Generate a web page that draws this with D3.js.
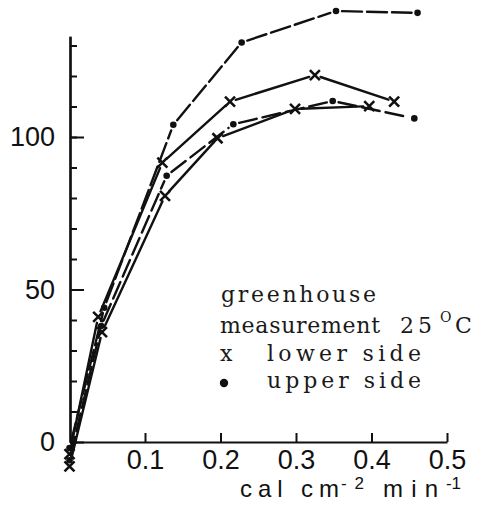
<!DOCTYPE html>
<html>
<head>
<meta charset="utf-8">
<script src="https://cdn.jsdelivr.net/npm/d3@7"></script>
<style>
  body { margin: 0; background: #fff; }
  svg { display: block; }
</style>
</head>
<body>
<svg id="chart" width="477" height="515"></svg>
<script>
// irradiance (cal cm-2 min-1) and rates
const upperTopX = [0, 0.046, 0.1375, 0.228, 0.353, 0.461];
const upperTopY = [-2, 44, 104, 131, 141.3, 140.7];
const lowerHighX = [0, 0.038, 0.123, 0.2126, 0.325, 0.430];
const lowerHighY = [-4, 41, 91.6, 111.6, 120.3, 111.6];
const upperLowX = [0, 0.042, 0.1287, 0.217, 0.3486, 0.4567];
const upperLowY = [-6, 38, 87.3, 104.2, 111.8, 106.1];
const lowerLowX = [0, 0.043, 0.1265, 0.196, 0.2987, 0.397];
const lowerLowY = [-8, 36, 80.7, 99.6, 109.2, 110.1];

const xTicks = [0.1, 0.2, 0.3, 0.4, 0.5];
const yMajorTicks = [0, 50, 100];
const yMinorTicks = d3.range(0, 131, 10);

const series = [
  { xs: upperTopX, ys: upperTopY, mark: "dot", dash: "20,5" },
  { xs: lowerHighX, ys: lowerHighY, mark: "cross", dash: null },
  { xs: upperLowX, ys: upperLowY, mark: "dot", dash: "18,6" },
  { xs: lowerLowX, ys: lowerLowY, mark: "cross", dash: null }
];

const sans = '"Liberation Sans", Arial, sans-serif';
const serif = '"DejaVu Serif", serif';
const ink = "#111";

const svg = d3.select("#chart");
const x = d3.scaleLinear().domain([0, 0.5]).range([69.5, 447]);
const y = d3.scaleLinear().domain([0, 133]).range([442, 442 - 133 * 3.05]);

// axes (ticks point inward)
const gy = svg.append("g").attr("transform", "translate(70,0)");
gy.call(d3.axisLeft(y).tickValues(yMinorTicks).tickSize(-7).tickSizeOuter(0).tickFormat(""));
gy.append("g").call(d3.axisLeft(y).tickValues(yMajorTicks).tickSize(-14).tickSizeOuter(0).tickPadding(15).tickFormat(d3.format("d")));

const gx = svg.append("g").attr("transform", "translate(0,442)");
gx.call(d3.axisBottom(x).tickValues(xTicks).tickSize(-9).tickSizeOuter(0).tickPadding(8).tickFormat(d3.format(".1f")));

svg.selectAll("path.domain").attr("stroke", ink).attr("stroke-width", 2.2);
svg.selectAll(".tick line").attr("stroke", ink).attr("stroke-width", 2);
svg.selectAll(".tick text").attr("font-family", sans).attr("font-size", 27).attr("fill", ink);

// axis title: cal cm-2 min-1
const titleParts = [
  { t: "cal cm", x: 240, y: 497, fs: 24, len: 99 },
  { t: "-2", x: 341, y: 489, fs: 17, len: 23 },
  { t: "min", x: 383, y: 497, fs: 24, len: 55 },
  { t: "-1", x: 446, y: 489, fs: 17, len: 15 }
];
svg.append("g").selectAll("text").data(titleParts).join("text")
  .attr("font-family", sans).attr("fill", ink)
  .attr("x", d => d.x).attr("y", d => d.y).attr("font-size", d => d.fs)
  .attr("textLength", d => d.len).attr("lengthAdjust", "spacing").text(d => d.t);

// curves: straight segments that stop short of each marker
const gap = 6;
series.forEach(s => {
  const pts = s.xs.map((v, i) => [x(v), y(s.ys[i])]);
  const segs = d3.pairs(pts).map(([a, b]) => {
    const dx = b[0] - a[0], dy = b[1] - a[1], L = Math.hypot(dx, dy);
    const k = Math.min(gap / L, 0.45);
    return [a[0] + dx * k, a[1] + dy * k, b[0] - dx * k, b[1] - dy * k];
  });
  svg.append("g").selectAll("line").data(segs).join("line")
    .attr("x1", d => d[0]).attr("y1", d => d[1]).attr("x2", d => d[2]).attr("y2", d => d[3])
    .attr("stroke", ink).attr("stroke-width", 2.4).attr("stroke-linecap", "round")
    .attr("stroke-dasharray", s.dash);

  const g = svg.append("g");
  if (s.mark === "dot") {
    g.selectAll("circle").data(pts).join("circle")
      .attr("cx", d => d[0]).attr("cy", d => d[1]).attr("r", 3.3).attr("fill", ink);
  } else {
    g.selectAll("path").data(pts).join("path")
      .attr("d", d => `M${d[0] - 5},${d[1] - 5}L${d[0] + 5},${d[1] + 5}M${d[0] - 5},${d[1] + 5}L${d[0] + 5},${d[1] - 5}`)
      .attr("stroke", ink).attr("stroke-width", 2.6).attr("fill", "none");
  }
});

// legend (typewritten in the original)
const legendText = [
  { t: "greenhouse", x: 221, y: 302, fs: 22, len: 155 },
  { t: "measurement", x: 220, y: 333, fs: 22, len: 160 },
  { t: "25", x: 400, y: 333, fs: 22, len: 32 },
  { t: "O", x: 440, y: 322, fs: 14, len: 11 },
  { t: "C", x: 455, y: 333, fs: 22, len: 15 },
  { t: "x", x: 220, y: 361, fs: 22, len: 13 },
  { t: "lower side", x: 267, y: 361, fs: 22, len: 154 },
  { t: "upper side", x: 267, y: 388, fs: 22, len: 154 }
];
const lg = svg.append("g");
lg.selectAll("text").data(legendText).join("text")
  .attr("font-family", serif).attr("fill", "#1a1a1a")
  .attr("x", d => d.x).attr("y", d => d.y).attr("font-size", d => d.fs)
  .attr("textLength", d => d.len).attr("lengthAdjust", "spacing").text(d => d.t);
lg.append("circle").attr("cx", 224).attr("cy", 383).attr("r", 4.2).attr("fill", ink);
</script>
</body>
</html>
